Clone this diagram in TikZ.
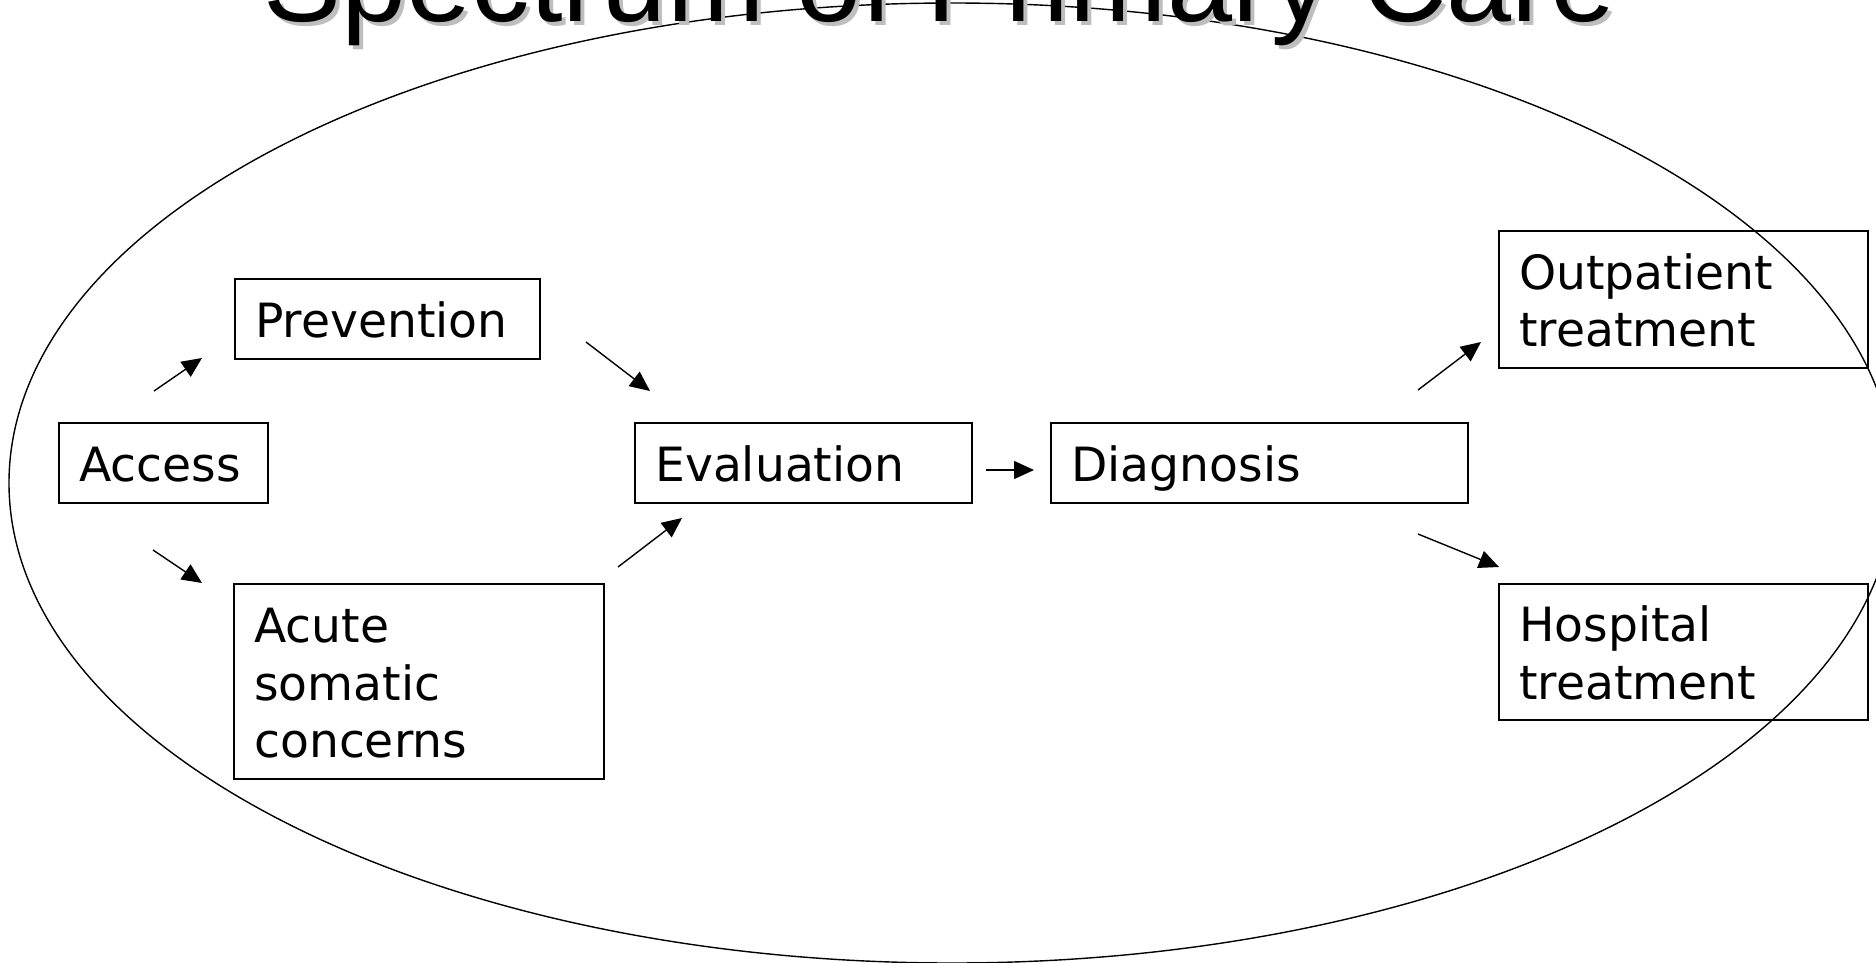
\documentclass[tikz,border=0pt]{standalone}
\usepackage{fontspec}
\setmainfont{DejaVu Sans}
\newfontfamily\titlefont{Liberation Sans}
\usetikzlibrary{arrows.meta}
\definecolor{shadowgray}{RGB}{190,190,190}
\newcommand\bstrut{\rule[-10pt]{0pt}{57.5pt}}
\begin{document}
\begin{tikzpicture}[x=1pt,y=-1pt,
  box/.style={draw=black, line width=1.5pt, anchor=north west, inner xsep=20.5pt,
    inner ysep=0pt, align=left, font=\fontsize{47.2}{57.5}\selectfont},
  flow/.style={line width=1.4pt, -{Triangle[length=20pt,width=18pt]}},
  ring/.style={line width=1.4pt}]
\useasboundingbox (0,0) rectangle (1876,963);
\clip (0,0) rectangle (1876,963);
% enclosing ellipse
\draw[ring] (952,483) ellipse [x radius=943, y radius=480];
% title (cut off at the top, with a grey shadow)
\node[anchor=base, inner sep=0pt, font=\titlefont\fontsize{117}{120}\selectfont] (title) at (940,21.5)
  {\rlap{\kern4pt\raisebox{-4pt}{\color{shadowgray}Spectrum of Primary Care}}Spectrum of Primary Care};
% boxes
\node[box, text width=168pt, minimum height=80pt] (access) at (58,422) {\bstrut Access};
\node[box, text width=264pt, minimum height=80pt] (prev) at (234,278) {\bstrut Prevention};
\node[box, text width=329pt, minimum height=195pt] (acute) at (233,583)
  {\bstrut Acute\\\bstrut somatic\\\bstrut concerns};
\node[box, text width=296pt, minimum height=80pt] (eval) at (634,422) {\bstrut Evaluation};
\node[box, text width=376pt, minimum height=80pt] (diag) at (1050,422) {\bstrut Diagnosis};
\node[box, text width=328pt, minimum height=137pt] (outp) at (1498,230)
  {\bstrut Outpatient\\\bstrut treatment};
\node[box, text width=328pt, minimum height=136pt] (hosp) at (1498,583)
  {\bstrut Hospital\\\bstrut treatment};
% free-standing arrow ends
\coordinate (accprevS) at (154,391);  \coordinate (accprevE) at (202,358);
\coordinate (accacuS)  at (153,550);  \coordinate (accacuE)  at (202,583);
\coordinate (prevevS)  at (586,342);  \coordinate (prevevE)  at (650,391);
\coordinate (acuevS)   at (618,567);  \coordinate (acuevE)   at (682,518);
\coordinate (evdiaS)   at (986,470);  \coordinate (evdiaE)   at (1034,470);
\coordinate (diaoutS)  at (1418,390); \coordinate (diaoutE)  at (1481,342);
\coordinate (diahosS)  at (1418,534); \coordinate (diahosE)  at (1499,567);
% arrows
\draw[flow] (accprevS) -- (accprevE);
\draw[flow] (accacuS) -- (accacuE);
\draw[flow] (prevevS) -- (prevevE);
\draw[flow] (acuevS) -- (acuevE);
\draw[flow] (evdiaS) -- (evdiaE);
\draw[flow] (diaoutS) -- (diaoutE);
\draw[flow] (diahosS) -- (diahosE);
\end{tikzpicture}
\end{document}
